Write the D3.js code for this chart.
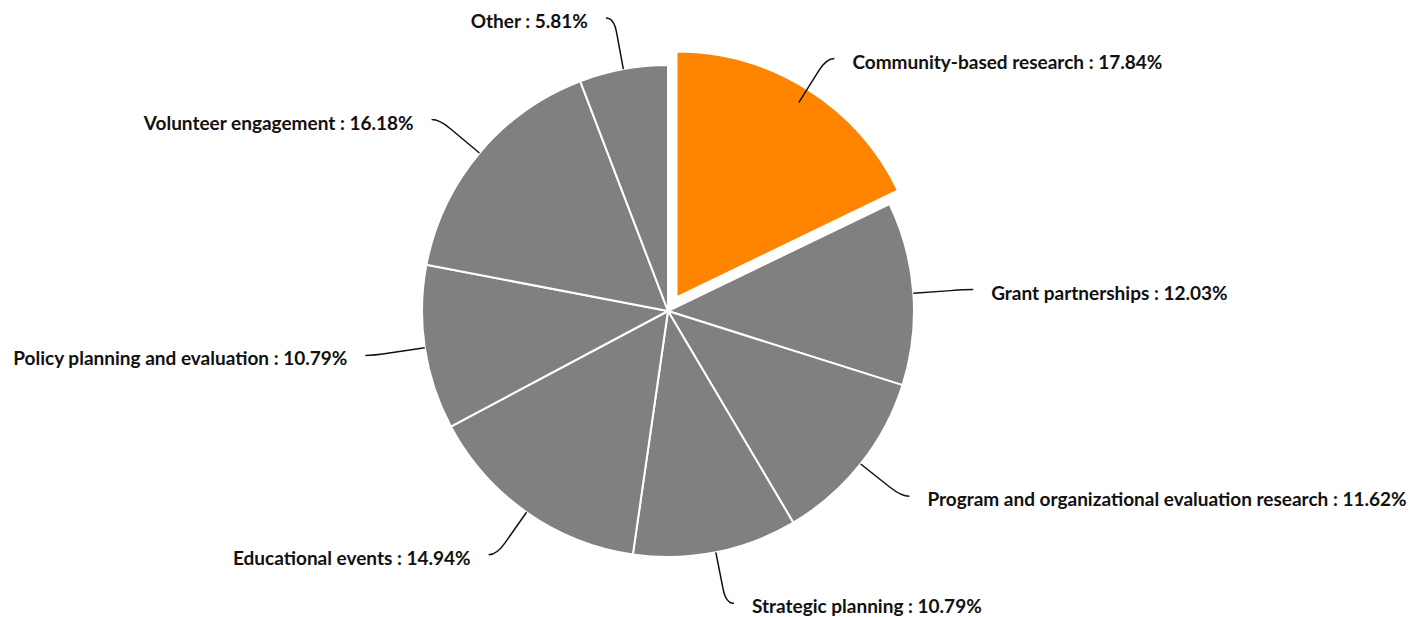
<!DOCTYPE html>
<html>
<head>
<meta charset="utf-8">
<script src="https://cdn.jsdelivr.net/npm/d3@7"></script>
<style>
  html, body { margin: 0; padding: 0; background: #fff; }
  svg { display: block; }
  .label { font-family: Lato, "Open Sans", sans-serif; font-weight: 700; font-size: 19px; fill: #111; }
</style>
</head>
<body>
<svg id="chart" width="1427" height="617"></svg>
<script>
// Share of activities, clockwise from 12 o'clock
const categories = [
  "Community-based research",
  "Grant partnerships",
  "Program and organizational evaluation research",
  "Strategic planning",
  "Educational events",
  "Policy planning and evaluation",
  "Volunteer engagement",
  "Other"
];
const shares = [17.84, 12.03, 11.62, 10.79, 14.94, 10.79, 16.18, 5.81];
const selected = ["Community-based research"];

const width = 1427, height = 617;
const cx = 668, cy = 311;
const radius = 246;
const explode = 16;          // pull-out distance for selected slice
const tickLen = 52;          // radial part of label line
const tickLen2 = 8;          // horizontal part of label line
const labelGap = 18;         // gap between line end and text

const data = categories.map((name, i) => ({ name, value: shares[i] }));

const pie = d3.pie().sort(null).value(d => d.value).startAngle(0).endAngle(2 * Math.PI);
const arc = d3.arc().innerRadius(0).outerRadius(radius);
const arcs = pie(data);

const color = d => selected.includes(d.data.name) ? "#ff8400" : "#808080";

const svg = d3.select("#chart");
const g = svg.append("g").attr("transform", `translate(${cx},${cy})`);

// slices
g.selectAll("path.slice")
  .data(arcs)
  .join("path")
  .attr("class", "slice")
  .attr("d", arc)
  .attr("fill", color)
  .attr("stroke", "#fff")
  .attr("stroke-width", 2)
  .attr("stroke-linejoin", "round")
  .attr("transform", d => {
    if (!selected.includes(d.data.name)) return null;
    const a = (d.startAngle + d.endAngle) / 2;
    return `translate(${Math.sin(a) * explode},${-Math.cos(a) * explode})`;
  });

// label lines + labels
const polar = (a, r) => [Math.sin(a) * r, -Math.cos(a) * r];

arcs.forEach(d => {
  const a = (d.startAngle + d.endAngle) / 2;
  const right = Math.sin(a) >= 0;
  const s = right ? 1 : -1;
  const p0 = polar(a, radius);
  const p1 = polar(a, radius + tickLen);
  const p2 = [p1[0] + s * tickLen2, p1[1]];
  const t = 0.72;
  const pa = [p0[0] + (p1[0] - p0[0]) * t, p0[1] + (p1[1] - p0[1]) * t];

  const path = d3.path();
  path.moveTo(p0[0], p0[1]);
  path.lineTo(pa[0], pa[1]);
  path.quadraticCurveTo(p1[0], p1[1], p2[0], p2[1]);

  g.append("path")
    .attr("d", path.toString())
    .attr("fill", "none")
    .attr("stroke", "#111")
    .attr("stroke-width", 1.5);

  g.append("text")
    .attr("class", "label")
    .attr("x", p2[0] + s * labelGap)
    .attr("y", p2[1] + 10)
    .attr("text-anchor", right ? "start" : "end")
    .text(`${d.data.name} : ${d.data.value.toFixed(2)}%`);
});
</script>
</body>
</html>
